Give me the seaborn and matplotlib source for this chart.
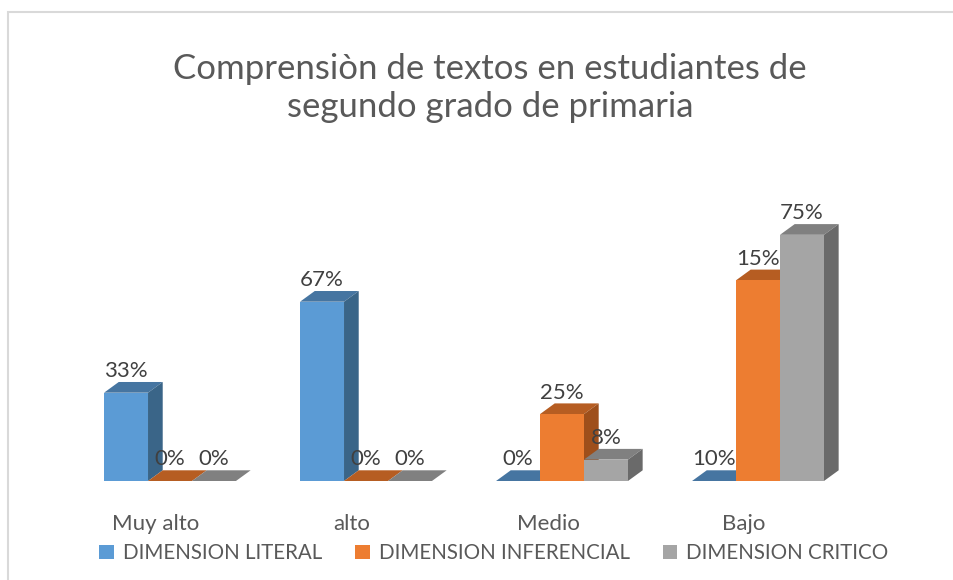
import pandas as pd
import matplotlib
matplotlib.use('Agg')
import matplotlib.pyplot as plt
from matplotlib.patches import Polygon, Patch, Rectangle
from matplotlib.transforms import ScaledTranslation
import seaborn as sns

niveles = ['Muy alto', 'alto', 'Medio', 'Bajo']
dimensiones = ['DIMENSION LITERAL', 'DIMENSION INFERENCIAL', 'DIMENSION CRITICO']

# bar heights (percent)
literal = [33, 67, 0, 0]
inferencial = [0, 0, 25, 75]
critico = [0, 0, 8, 92]

# data labels as written on the chart
lbl_literal = ['33%', '67%', '0%', '10%']
lbl_inferencial = ['0%', '0%', '25%', '15%']
lbl_critico = ['0%', '0%', '8%', '75%']

titulo = 'Comprensiòn de textos en estudiantes de\nsegundo grado de primaria'

front = ['#5B9BD5', '#ED7D31', '#A5A5A5']
top = ['#4675A1', '#B65D22', '#808080']
side = ['#3A6588', '#9E4F1B', '#6A6A6A']


def build_frame():
	rows = []
	for dim, vals in zip(dimensiones, [literal, inferencial, critico]):
		for niv, v in zip(niveles, vals):
			rows.append({'nivel': niv, 'dimension': dim, 'valor': v})
	return pd.DataFrame(rows)


def add_depth(ax, dx_px=14.7, dy_px=10.7):
	# convert pixel depth into data units
	inv = ax.transData.inverted()
	x0, y0 = inv.transform((0, 0))
	x1, y1 = inv.transform((dx_px, dy_px))
	dx, dy = x1 - x0, y1 - y0
	labels = [lbl_literal, lbl_inferencial, lbl_critico]
	for k, cont in enumerate(ax.containers):
		for j, bar in enumerate(cont.patches):
			x, w, h = bar.get_x(), bar.get_width(), bar.get_height()
			bar.set_zorder(3 + 2 * k)
			ax.add_patch(Polygon([(x, h), (x + w, h), (x + w + dx, h + dy), (x + dx, h + dy)],
				closed=True, facecolor=top[k], edgecolor='none', zorder=2 + 2 * k, clip_on=False))
			if h > 0:
				ax.add_patch(Polygon([(x + w, 0), (x + w + dx, dy), (x + w + dx, h + dy), (x + w, h)],
					closed=True, facecolor=side[k], edgecolor='none', zorder=2 + 2 * k, clip_on=False))
			ax.text(x + w / 2, h + dy + 0.3, labels[k][j], ha='center', va='bottom',
				fontsize=16, color='#404040', zorder=20, clip_on=False)


def draw_chart(df):
	fig = plt.figure(figsize=(9.54, 5.8), dpi=100)
	W, H = 954, 580
	ax = fig.add_axes([72 / W, 99 / H, 784 / W, 267.6 / H])
	sns.barplot(data=df, x='nivel', y='valor', hue='dimension', order=niveles,
		hue_order=dimensiones, palette=front, width=0.673, saturation=1,
		linewidth=0, legend=False, ax=ax)
	ax.set_xlim(-0.5, 3.5)
	ax.set_ylim(0, 100)
	ax.set_xlabel('')
	ax.set_ylabel('')
	ax.set_yticks([])
	for spine in ax.spines.values():
		spine.set_visible(False)
	ax.patch.set_alpha(0)
	ax.tick_params(axis='x', length=0, pad=24, labelsize=16, labelcolor='#595959')
	shift = ScaledTranslation(-14 / 100, 0, fig.dpi_scale_trans)
	for lab in ax.get_xticklabels():
		lab.set_transform(lab.get_transform() + shift)

	add_depth(ax)

	fig.text(490 / W, 1 - 88 / H, titulo, ha='center', va='center', fontsize=25,
		color='#595959', linespacing=1.25)

	handles = [Patch(facecolor=c, edgecolor='none') for c in front]
	fig.legend(handles, dimensiones, loc='center', bbox_to_anchor=(494 / W, 27 / H),
		ncol=3, frameon=False, fontsize=14.8, labelcolor='#595959',
		handlelength=0.7, handleheight=0.7, handletextpad=0.45, columnspacing=1.6)

	fig.patches.append(Rectangle((8.5 / W, -0.1), 1.2, 1.1 - 11.5 / H, transform=fig.transFigure,
		fill=False, edgecolor='#D9D9D9', linewidth=1.5))

	fig.savefig('out.png', dpi=100, facecolor='white')


def main():
	plt.rcParams['font.family'] = ['Lato', 'DejaVu Sans']
	df = build_frame()
	draw_chart(df)


if __name__ == '__main__':
	main()
